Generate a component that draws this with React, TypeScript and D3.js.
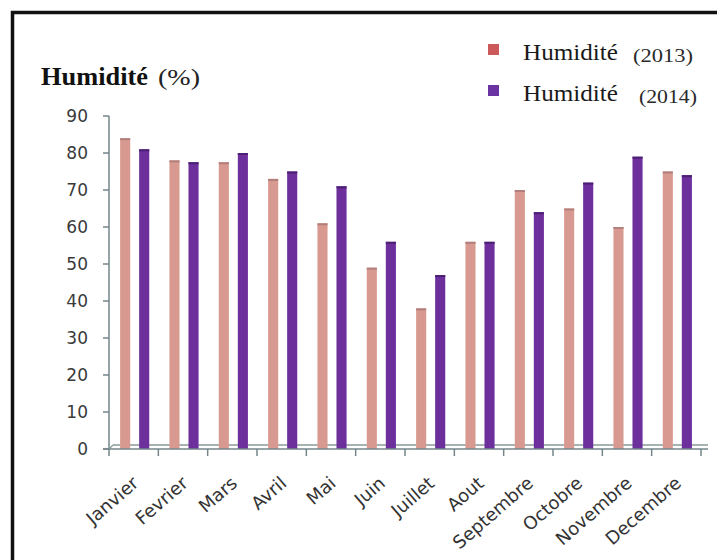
import React from "react";
import * as d3 from "d3";

// Monthly relative humidity (%) for two years
const months = [
  "Janvier", "Fevrier", "Mars", "Avril", "Mai", "Juin",
  "Juillet", "Aout", "Septembre", "Octobre", "Novembre", "Decembre",
];
const humidity2013 = [84, 78, 77.5, 73, 61, 49, 38, 56, 70, 65, 60, 75];
const humidity2014 = [81, 77.5, 80, 75, 71, 56, 47, 56, 64, 72, 79, 74];
const yTicks = [0, 10, 20, 30, 40, 50, 60, 70, 80, 90];
const seriesKeys = ["2013", "2014"];

const W = 717;
const H = 560;
const plot = { left: 109, right: 701, top: 116, bottom: 449 };

const barFill: Record<string, string> = { "2013": "#d89a90", "2014": "#6c2f9c" };
const barCap: Record<string, string> = { "2013": "#b27f7c", "2014": "#4b1f73" };
const legendFill: Record<string, string> = { "2013": "#cc5a5a", "2014": "#6a35a2" };

export default function App() {
  const x = d3.scaleBand<string>().domain(months).range([plot.left, plot.right]).padding(0);
  const xs = d3
    .scaleBand<string>()
    .domain(seriesKeys)
    .range([0, x.bandwidth()])
    .paddingInner(0.47)
    .paddingOuter(0.53)
    .align(0.55);
  const y = d3.scaleLinear().domain([0, 90]).range([plot.bottom, plot.top]);

  const rows = months.map((m, i) => ({ m, vals: { "2013": humidity2013[i], "2014": humidity2014[i] } as Record<string, number> }));
  const axisColor = "#74868a";
  const tickFont = "'DejaVu Sans', Verdana, sans-serif";
  const serif = "'Liberation Serif', 'Times New Roman', serif";

  const tickXs = [...months.map((m) => x(m)!), plot.right];

  return (
    <svg width={W} height={H} style={{ position: "absolute", left: 0, top: 0, background: "#fff" }}>
      <rect x={0} y={0} width={W} height={H} fill="#fff" />
      {/* frame */}
      <rect x={12.5} y={12.5} width={W + 20} height={H + 20} fill="none" stroke="#111" strokeWidth={3.5} />

      {/* title */}
      <text x={41} y={85} fontFamily={serif} fontSize={26} fontWeight="bold" fill="#111" textLength={107} lengthAdjust="spacingAndGlyphs">
        Humidité
      </text>
      <text x={158} y={85} fontFamily={serif} fontSize={24} fill="#222" textLength={42} lengthAdjust="spacingAndGlyphs">
        (%)
      </text>

      {/* legend */}
      {seriesKeys.map((k, i) => (
        <g key={k} transform={`translate(0, ${i * 41})`}>
          <rect x={488} y={44} width={11} height={11} fill={legendFill[k]} />
          <text x={523} y={60} fontFamily={serif} fontSize={24} fill="#1a1a1a" textLength={95} lengthAdjust="spacingAndGlyphs">
            Humidité
          </text>
          <text x={i === 0 ? 633 : 639} y={62} fontFamily={serif} fontSize={19} fill="#2a2a2a" textLength={i === 0 ? 60 : 58} lengthAdjust="spacingAndGlyphs">
            ({k})
          </text>
        </g>
      ))}

      {/* y axis */}
      <line x1={plot.left} x2={plot.left} y1={plot.top} y2={plot.bottom} stroke={axisColor} strokeWidth={1.5} />
      {yTicks.map((t) => (
        <g key={t}>
          <line x1={plot.left - 6} x2={plot.left} y1={y(t)} y2={y(t)} stroke={axisColor} strokeWidth={1.5} />
          <text x={88} y={y(t)} dy="0.36em" textAnchor="end" fontFamily={tickFont} fontSize={17} fill="#3a3a3a">
            {t}
          </text>
        </g>
      ))}

      {/* floor */}
      <line x1={plot.left + 4} x2={708} y1={plot.bottom - 4} y2={plot.bottom - 4} stroke="#8a9a98" strokeWidth={1.5} />
      <line x1={plot.left} x2={plot.left + 4} y1={plot.bottom} y2={plot.bottom - 4} stroke="#8a9a98" strokeWidth={1.2} />

      {/* bars */}
      {rows.map((r) => (
        <g key={r.m} transform={`translate(${x(r.m)}, 0)`}>
          {seriesKeys.map((k) => {
            const bx = xs(k)!;
            const by = y(r.vals[k]);
            return (
              <g key={k}>
                <rect x={bx} y={by} width={xs.bandwidth()} height={plot.bottom - by} fill={barFill[k]} />
                <rect x={bx} y={by} width={xs.bandwidth()} height={2} fill={barCap[k]} />
              </g>
            );
          })}
        </g>
      ))}

      {/* x axis */}
      <line x1={plot.left - 6} x2={708} y1={plot.bottom} y2={plot.bottom} stroke={axisColor} strokeWidth={1.5} />
      {tickXs.map((tx, i) => (
        <line key={i} x1={tx} x2={tx} y1={plot.bottom} y2={plot.bottom + 7} stroke={axisColor} strokeWidth={1.5} />
      ))}
      {months.map((m) => {
        const cx = x(m)! + x.bandwidth() / 2 + 6;
        const cy = plot.bottom + 36;
        return (
          <text
            key={m}
            transform={`translate(${cx}, ${cy}) rotate(-41)`}
            textAnchor="end"
            fontFamily={tickFont}
            fontSize={18}
            fill="#333"
          >
            {m}
          </text>
        );
      })}
    </svg>
  );
}
